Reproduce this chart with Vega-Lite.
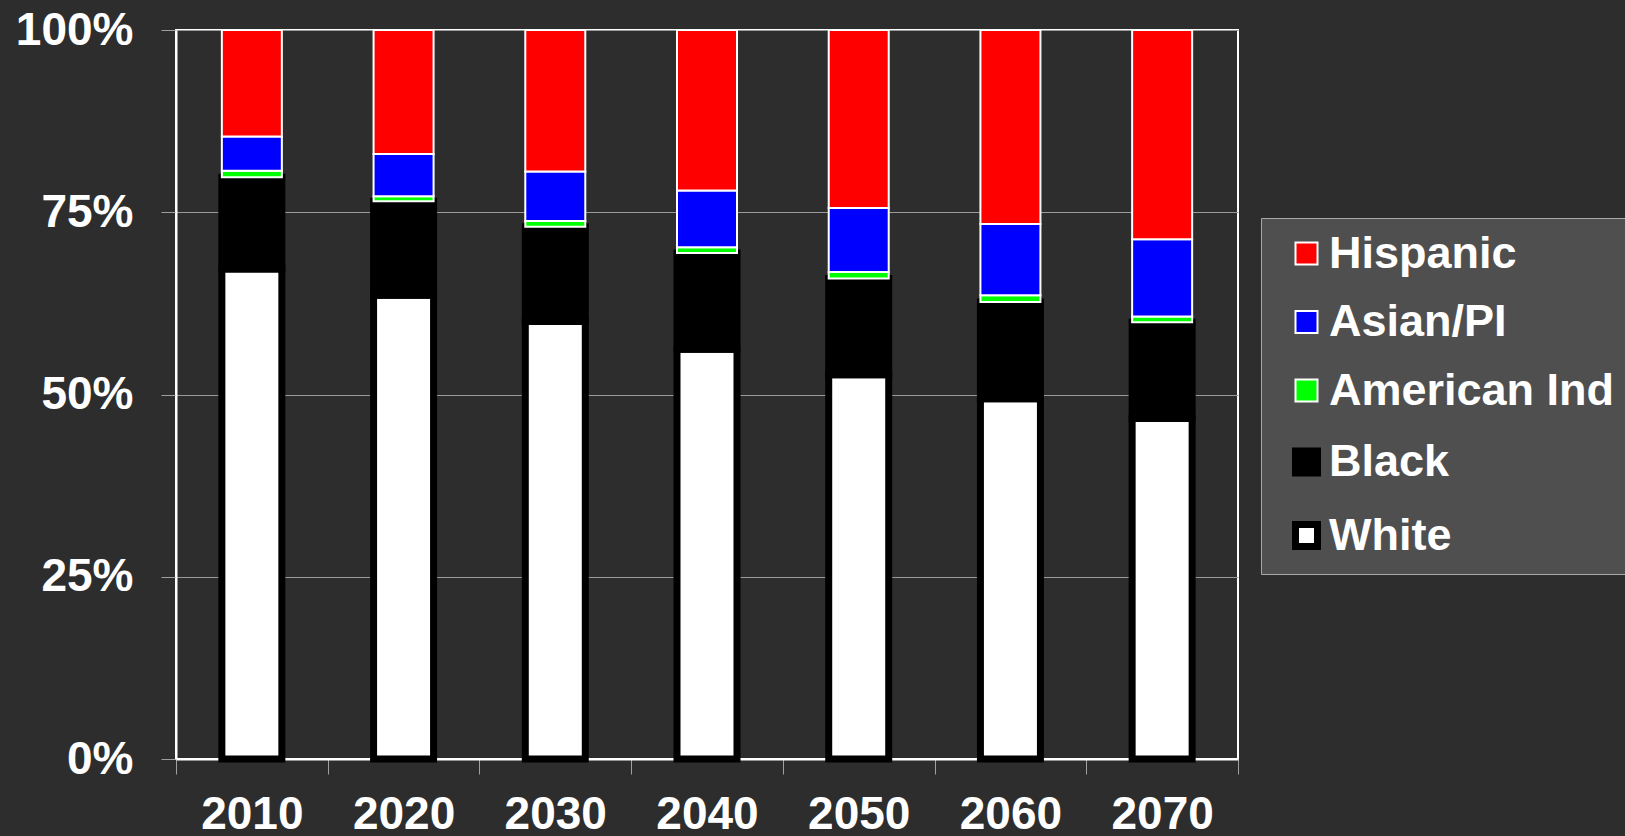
{
  "$schema": "https://vega.github.io/schema/vega-lite/v6.json",
  "width": 1062,
  "height": 729,
  "autosize": {"type": "none"},
  "padding": {"left": 176, "top": 30, "right": 387, "bottom": 77},
  "background": "#2d2d2d",
  "config": {
    "font": "Liberation Sans",
    "view": {"stroke": "#ffffff", "strokeWidth": 2},
    "legend": {
      "title": null,
      "orient": "none",
      "legendX": 1085,
      "legendY": 188,
      "fillColor": "#4f4f4f",
      "strokeColor": "#a8a8a8",
      "padding": 13,
      "symbolType": "square",
      "symbolSize": 484,
      "symbolOffset": 10,
      "symbolOpacity": 1,
      "labelFont": "Liberation Sans",
      "labelFontSize": 45,
      "labelFontWeight": "bold",
      "labelColor": "#ffffff",
      "labelOffset": 0,
      "labelLimit": 400,
      "rowPadding": 22.5
    }
  },
  "data": {
    "values": [
      {"year": "2010", "group": "White", "share": 67.2},
      {"year": "2010", "group": "Black", "share": 12.6},
      {"year": "2010", "group": "American Ind", "share": 0.9},
      {"year": "2010", "group": "Asian/PI", "share": 4.7},
      {"year": "2010", "group": "Hispanic", "share": 14.6},
      {"year": "2020", "group": "White", "share": 63.6},
      {"year": "2020", "group": "Black", "share": 12.9},
      {"year": "2020", "group": "American Ind", "share": 0.7},
      {"year": "2020", "group": "Asian/PI", "share": 5.8},
      {"year": "2020", "group": "Hispanic", "share": 17.0},
      {"year": "2030", "group": "White", "share": 60.0},
      {"year": "2030", "group": "Black", "share": 13.0},
      {"year": "2030", "group": "American Ind", "share": 0.8},
      {"year": "2030", "group": "Asian/PI", "share": 6.8},
      {"year": "2030", "group": "Hispanic", "share": 19.4},
      {"year": "2040", "group": "White", "share": 56.2},
      {"year": "2040", "group": "Black", "share": 13.2},
      {"year": "2040", "group": "American Ind", "share": 0.8},
      {"year": "2040", "group": "Asian/PI", "share": 7.8},
      {"year": "2040", "group": "Hispanic", "share": 22.0},
      {"year": "2050", "group": "White", "share": 52.7},
      {"year": "2050", "group": "Black", "share": 13.2},
      {"year": "2050", "group": "American Ind", "share": 0.9},
      {"year": "2050", "group": "Asian/PI", "share": 8.8},
      {"year": "2050", "group": "Hispanic", "share": 24.4},
      {"year": "2060", "group": "White", "share": 49.4},
      {"year": "2060", "group": "Black", "share": 13.3},
      {"year": "2060", "group": "American Ind", "share": 0.9},
      {"year": "2060", "group": "Asian/PI", "share": 9.8},
      {"year": "2060", "group": "Hispanic", "share": 26.6},
      {"year": "2070", "group": "White", "share": 46.7},
      {"year": "2070", "group": "Black", "share": 13.2},
      {"year": "2070", "group": "American Ind", "share": 0.8},
      {"year": "2070", "group": "Asian/PI", "share": 10.6},
      {"year": "2070", "group": "Hispanic", "share": 28.7}
    ]
  },
  "transform": [
    {"calculate": "indexof(['White', 'Black', 'American Ind', 'Asian/PI', 'Hispanic'], datum.group)", "as": "stackOrder"}
  ],
  "mark": {"type": "bar", "size": 60},
  "encoding": {
    "x": {
      "field": "year",
      "type": "ordinal",
      "scale": {"paddingInner": 0, "paddingOuter": 0},
      "axis": {
        "title": null,
        "labelAngle": 0,
        "labelFont": "Liberation Sans",
        "labelFontSize": 46,
        "labelFontWeight": "bold",
        "labelColor": "#ffffff",
        "labelPadding": 18,
        "domainColor": "#ffffff",
        "domainWidth": 2,
        "tickColor": "#a0a0a0",
        "tickWidth": 1,
        "tickSize": 15,
        "tickBand": "extent"
      }
    },
    "y": {
      "field": "share",
      "type": "quantitative",
      "stack": "zero",
      "scale": {"domain": [0, 100], "nice": false},
      "axis": {
        "title": null,
        "values": [0, 25, 50, 75, 100],
        "labelExpr": "datum.value + '%'",
        "labelFont": "Liberation Sans",
        "labelFontSize": 46,
        "labelFontWeight": "bold",
        "labelColor": "#ffffff",
        "labelPadding": 28,
        "domainColor": "#ffffff",
        "domainWidth": 2,
        "tickColor": "#a0a0a0",
        "tickWidth": 1,
        "tickSize": 15,
        "grid": true,
        "gridColor": "#9a9a9a",
        "gridWidth": 1
      }
    },
    "order": {"field": "stackOrder", "type": "quantitative"},
    "color": {
      "field": "group",
      "type": "nominal",
      "scale": {
        "domain": ["Hispanic", "Asian/PI", "American Ind", "Black", "White"],
        "range": ["#ff0000", "#0000ff", "#00ff00", "#000000", "#ffffff"]
      },
      "legend": {
        "symbolStrokeColor": "#ffffff",
        "encode": {
          "symbols": {
            "update": {
              "stroke": {"signal": "datum.label === 'White' || datum.label === 'Black' ? '#000000' : '#ffffff'"},
              "strokeWidth": {"signal": "datum.label === 'White' || datum.label === 'Black' ? 7 : 2"}
            }
          }
        }
      }
    },
    "stroke": {
      "condition": {"test": "datum.group === 'White' || datum.group === 'Black'", "value": "#000000"},
      "value": "#ffffff"
    },
    "strokeWidth": {
      "condition": {"test": "datum.group === 'White' || datum.group === 'Black'", "value": 7},
      "value": 2
    }
  }
}
